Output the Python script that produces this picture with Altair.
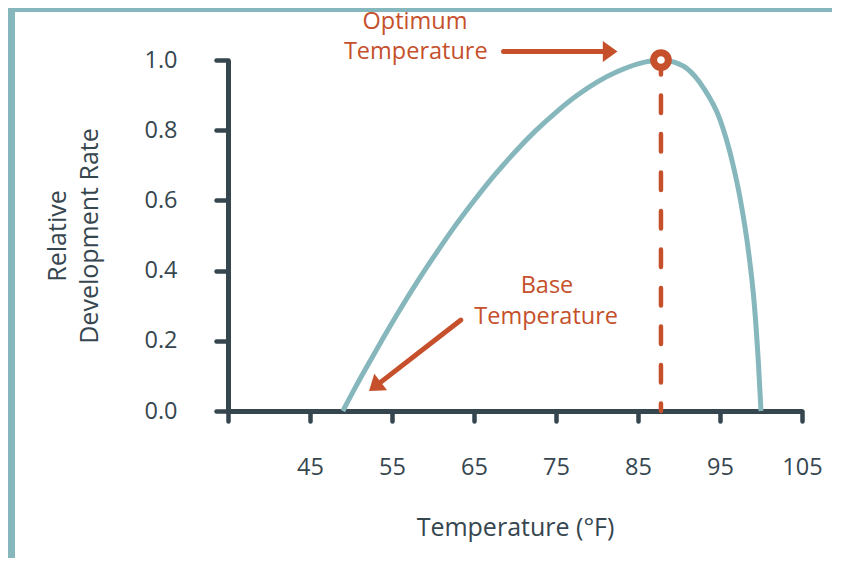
import altair as alt
import pandas as pd

# ---- data ----
temp_f = [49.0, 50.5, 52.0, 54.0, 56.0, 58.0, 60.0, 62.5, 65.0, 67.5, 70.0, 72.5, 75.0, 77.5,
          80.0, 82.5, 85.0, 87.8, 89.5, 91.0, 93.0, 95.0, 96.5, 97.5, 98.5, 99.2, 99.7, 100.0]
rate = [0.0, 0.066, 0.129, 0.211, 0.29, 0.365, 0.436, 0.521, 0.599, 0.672, 0.738, 0.798, 0.851, 0.898,
        0.937, 0.967, 0.989, 1.0, 0.993, 0.975, 0.92, 0.83, 0.71, 0.60, 0.45, 0.30, 0.13, 0.0]

x_ticks = [35, 45, 55, 65, 75, 85, 95, 105]
y_ticks = [0.0, 0.2, 0.4, 0.6, 0.8, 1.0]

optimum_temp = [87.8]
optimum_rate = [1.0]

label_text = ["Optimum", "Temperature", "Base", "Temperature"]
label_temp = [57.8, 57.9, 73.9, 73.8]
label_rate = [1.109, 1.023, 0.356, 0.268]

arrow_id = ["optimum", "optimum", "base", "base"]
arrow_temp = [68.6, 81.5, 63.4, 53.2]
arrow_rate = [1.024, 1.024, 0.259, 0.0744]

head_temp = [82.5, 52.2]
head_rate = [1.024, 0.057]
head_angle = [0, 142.4]

FONT = "Open Sans"
FS = 23.5
TFS = 25
DARK = "#36464f"
TEAL = "#86b7bc"
ORANGE = "#c5502b"

xs = alt.Scale(domain=[35, 105], nice=False, zero=False)
ys = alt.Scale(domain=[0, 1], nice=False)

curve_df = pd.DataFrame({"temp": temp_f, "rate": rate})
opt_df = pd.DataFrame({"temp": optimum_temp, "rate": optimum_rate, "rate0": [0.0]})
lab_df = pd.DataFrame({"text": label_text, "temp": label_temp, "rate": label_rate})
arr_df = pd.DataFrame({"id": arrow_id, "temp": arrow_temp, "rate": arrow_rate, "order": [0, 1, 0, 1]})
head_df = pd.DataFrame({"temp": head_temp, "rate": head_rate, "angle": head_angle})

x_axis = alt.Axis(
    values=x_ticks,
    labelExpr="datum.value == 35 ? '' : datum.label",
    labelFlush=False, labelOverlap=False,
    tickSize=10, tickWidth=4.5, tickColor=DARK, tickCap="round",
    domainColor=DARK, domainWidth=5,
    labelPadding=34, labelFontSize=FS, labelFont=FONT, labelColor=DARK,
    title="Temperature (°F)", titleFontSize=TFS, titleFont=FONT, titleColor=DARK,
    titleFontWeight="normal", titlePadding=37, grid=False,
)
y_axis = alt.Axis(
    values=y_ticks, format=".1f", labelFlush=False, labelOverlap=False,
    tickSize=12, tickWidth=4.5, tickColor=DARK, tickCap="round",
    domainColor=DARK, domainWidth=5,
    labelPadding=39, labelFontSize=FS, labelFont=FONT, labelColor=DARK,
    title=["Relative", "Development Rate"], titleFontSize=TFS, titleFont=FONT,
    titleColor=DARK, titleFontWeight="normal", titlePadding=41, grid=False,
    titleLineHeight=32,
)

base = alt.Chart(curve_df)

curve = base.mark_line(color=TEAL, strokeWidth=5, interpolate="monotone").encode(
    x=alt.X("temp:Q", scale=xs, axis=x_axis),
    y=alt.Y("rate:Q", scale=ys, axis=y_axis),
)

dash = alt.Chart(opt_df).mark_rule(
    color=ORANGE, strokeWidth=4.5, strokeDash=[17.5, 21], strokeDashOffset=3, strokeCap="round"
).encode(
    x=alt.X("temp:Q", scale=xs), y=alt.Y("rate:Q", scale=ys), y2="rate0:Q"
)

peak = alt.Chart(opt_df).mark_point(
    shape="circle", size=216, filled=False, fill="white", fillOpacity=1,
    stroke=ORANGE, strokeWidth=7, opacity=1
).encode(x=alt.X("temp:Q", scale=xs), y=alt.Y("rate:Q", scale=ys))

shafts = alt.Chart(arr_df).mark_line(color=ORANGE, strokeWidth=5, strokeCap="round").encode(
    x=alt.X("temp:Q", scale=xs), y=alt.Y("rate:Q", scale=ys), detail="id:N", order="order:Q"
)

heads = alt.Chart(head_df).mark_point(
    shape="M0,0L-1.4,-1L-1.4,1Z", size=441, filled=True, color=ORANGE, opacity=1, strokeWidth=0
).encode(x=alt.X("temp:Q", scale=xs), y=alt.Y("rate:Q", scale=ys), angle=alt.Angle("angle:Q", scale=None))

labels = alt.Chart(lab_df).mark_text(
    font=FONT, fontSize=FS, color=ORANGE, align="center", baseline="middle"
).encode(x=alt.X("temp:Q", scale=xs), y=alt.Y("rate:Q", scale=ys), text="text:N")

frame_top = alt.Chart(opt_df).mark_rect(color=TEAL).encode(
    x=alt.value(-220), x2=alt.value(620), y=alt.value(-52), y2=alt.value(-48)
)
frame_left = alt.Chart(opt_df).mark_rect(color=TEAL).encode(
    x=alt.value(-220), x2=alt.value(-213), y=alt.value(-52), y2=alt.value(500)
)

chart = alt.layer(frame_top, frame_left, curve, dash, peak, shafts, heads, labels).properties(
    width=574, height=351,
    autosize=alt.AutoSizeParams(type="none"),
    padding={"left": 220, "top": 52, "right": 30, "bottom": 147},
    background="white",
).configure_view(stroke=None)

chart.save("out.html", embed_options={"renderer": "svg", "actions": False})
